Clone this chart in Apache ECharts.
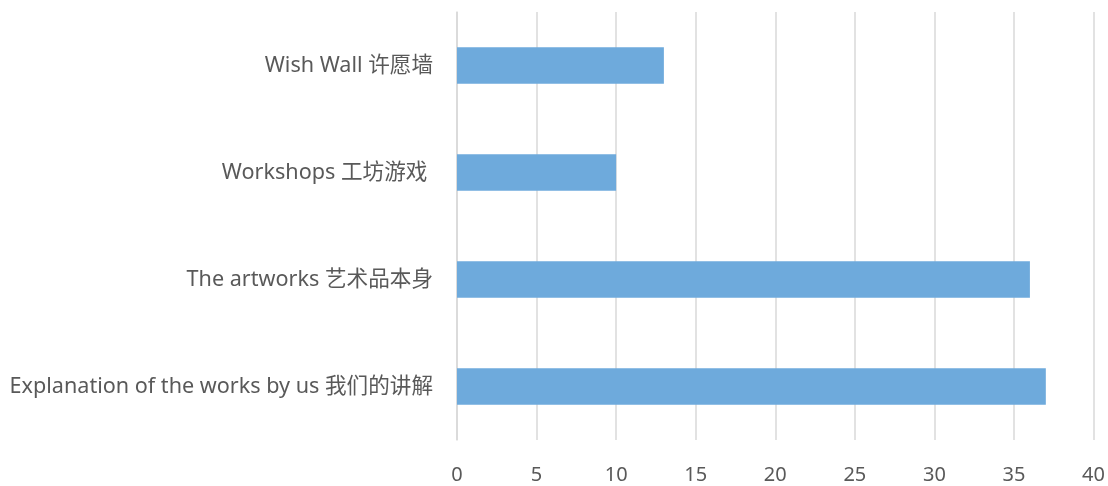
<!DOCTYPE html>
<html><head><meta charset="utf-8">
<script src="https://cdn.jsdelivr.net/npm/echarts@6/dist/echarts.min.js"></script>
<style>html,body{margin:0;padding:0;background:#fff}#c{width:1108px;height:486px}</style>
</head><body><div id="c"></div>
<script>
var categories = ["Explanation of the works by us 我们的讲解", "The artworks 艺术品本身", "Workshops 工坊游戏 ", "Wish Wall 许愿墙"];
var values = [37, 36, 10, 13];
var xTicks = {min: 0, max: 40, interval: 5};
var chart = echarts.init(document.getElementById('c'), null, {renderer: 'canvas'});
var font = "'Noto Sans', 'Noto Sans CJK SC', sans-serif";
chart.setOption({
  animation: false,
  grid: {left: 457, right: 14, top: 12, bottom: 46, containLabel: false},
  xAxis: {
    type: 'value', min: xTicks.min, max: xTicks.max, interval: xTicks.interval,
    axisLine: {show: false}, axisTick: {show: false},
    splitLine: {show: true, lineStyle: {color: '#d9d9d9', width: 1.5}},
    axisLabel: {color: '#595959', fontSize: 20, fontFamily: font, margin: 25}
  },
  yAxis: {
    type: 'category', data: categories,
    axisLine: {show: true, lineStyle: {color: '#d9d9d9', width: 1.5}},
    axisTick: {show: false},
    axisLabel: {color: '#595959', fontSize: 21.6, fontFamily: font, margin: 24, padding: [14, 0, 0, 0]}
  },
  series: [{
    type: 'bar', data: values, barWidth: '34%',
    itemStyle: {color: '#6eaadc'}
  }]
});
</script></body></html>
